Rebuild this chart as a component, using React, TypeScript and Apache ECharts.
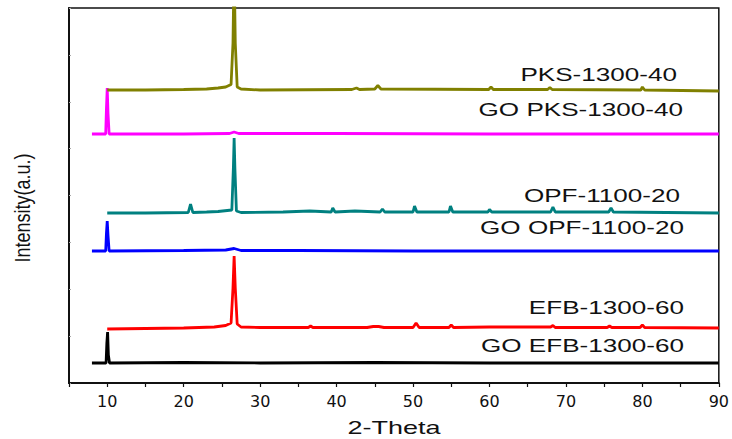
import React, { useEffect, useRef } from "react";
import * as echarts from "echarts";

// 2-Theta tick labels
const xTicks = [10, 20, 30, 40, 50, 60, 70, 80, 90];
const xRange = [5, 90];
const yRange = [0, 375];

// Series names (bottom to top)
const seriesNames = [
  "GO EFB-1300-60",
  "EFB-1300-60",
  "GO OPF-1100-20",
  "OPF-1100-20",
  "GO PKS-1300-40",
  "PKS-1300-40",
];
const seriesColors = ["#000000", "#ff0000", "#0000ff", "#008080", "#ff00ff", "#808000"];

// Stacked (offset) intensity, arbitrary units: [2-Theta, intensity]
const goEfb: number[][] = [
  [8, 20], [9.85, 20], [9.95, 40], [10.05, 51], [10.15, 28], [10.3, 20],
  [20, 20.5], [30, 20], [45, 20.5], [60, 20], [75, 20], [90, 20],
];
const efb: number[][] = [
  [10, 54], [15, 54.5], [20, 55], [24, 56], [25.5, 57.5], [26.2, 60], [26.45, 95], [26.6, 127],
  [26.75, 95], [27, 59], [27.5, 56], [30, 55.5], [36.3, 55.5], [36.6, 57], [36.9, 55.5],
  [44, 55.5], [44.8, 56.5], [45.5, 56.5], [46.2, 55.5], [50, 55.5], [50.4, 60], [50.8, 55.5],
  [54.7, 55.5], [55, 58], [55.3, 55.5], [60, 56], [68, 56], [68.3, 57.5], [68.6, 55.5],
  [75.4, 55.5], [75.7, 57], [76, 55.5], [79.7, 55.5], [80, 58], [80.3, 55.5], [90, 55],
];
const goOpf: number[][] = [
  [8, 132], [9.8, 132], [9.9, 150], [10, 162], [10.1, 148], [10.25, 132], [20, 132.5],
  [25.5, 133], [26.6, 134.5], [27.5, 132.5], [35, 132.5], [50, 132], [70, 132], [90, 132],
];
const opf: number[][] = [
  [10, 170], [15, 170], [20.6, 170.5], [20.9, 179], [21.2, 170.5], [23, 171], [24.5, 171.5],
  [26.3, 173], [26.5, 215], [26.6, 245], [26.7, 215], [26.9, 172], [27.5, 170.5], [33, 171],
  [36.5, 172], [39.3, 171], [39.5, 175], [39.8, 171], [42.4, 172], [45.7, 171], [46, 174],
  [46.3, 171], [50, 171], [50.2, 177], [50.5, 171], [54.7, 171], [54.9, 177], [55.2, 171],
  [59.8, 171], [60, 173.5], [60.3, 171], [68, 171], [68.3, 176], [68.6, 171], [75.6, 171],
  [75.9, 175], [76.2, 171], [90, 170],
];
const goPks: number[][] = [
  [8, 249], [9.8, 249], [9.9, 275], [10, 295], [10.1, 270], [10.25, 249], [20, 249],
  [26, 249.5], [26.6, 251], [27.2, 249.5], [40, 249.5], [60, 249], [90, 249],
];
const pks: number[][] = [
  [10, 293], [15, 293], [20, 293.5], [23, 294], [24.5, 295], [25.5, 296], [26.2, 298.5],
  [26.45, 340], [26.6, 420], [26.75, 340], [27, 296], [27.5, 294], [30, 293], [42, 293.5],
  [42.6, 295], [43, 293.5], [45, 294], [45.4, 297.5], [45.8, 294], [59.9, 293.5], [60.2, 296],
  [60.5, 293.5], [67.6, 293.5], [67.9, 295.5], [68.2, 293.5], [79.8, 293], [80, 296],
  [80.3, 293], [90, 292],
];
const seriesData = [goEfb, efb, goOpf, opf, goPks, pks];

// label anchor (right edge, vertical middle) in pixels
const labelPos = [
  [684, 346],
  [684, 308],
  [684, 228],
  [680, 196],
  [683, 110],
  [677, 75],
];

const GRID = { left: 69, top: 8, width: 651, height: 375 };

export default function App() {
  const ref = useRef<HTMLDivElement>(null);
  useEffect(() => {
    if (!ref.current) return;
    const chart = echarts.init(ref.current, undefined, { renderer: "svg" });
    const labelFont = "18px 'Liberation Sans', Arial, sans-serif";
    chart.setOption({
      animation: false,
      backgroundColor: "#ffffff",
      grid: {
        left: GRID.left,
        top: GRID.top,
        width: GRID.width,
        height: GRID.height,
        containLabel: false,
        show: true,
        borderColor: "#111",
        borderWidth: 1.5,
        backgroundColor: "rgba(0,0,0,0)",
      },
      xAxis: [
        {
          type: "value",
          min: xRange[0],
          max: xRange[1],
          interval: 5,
          axisLine: { show: true, onZero: false, lineStyle: { color: "#111", width: 2 } },
          axisTick: { show: true, inside: false, length: 4, lineStyle: { color: "#111", width: 1.2 } },
          axisLabel: {
            margin: 10,
            color: "#111",
            fontSize: 16,
            fontFamily: "DejaVu Sans",
            formatter: (v: number) => (xTicks.includes(v) ? String(v) : ""),
          },
          splitLine: { show: false },
        },
      ],
      yAxis: [
        {
          type: "value",
          min: yRange[0],
          max: yRange[1],
          interval: 46.875,
          axisLine: { show: true, onZero: false, lineStyle: { color: "#111", width: 2 } },
          axisTick: { show: true, inside: true, length: 2, lineStyle: { color: "#aaa" } },
          axisLabel: { show: false },
          splitLine: { show: false },
        },
      ],
      series: seriesData.map((d, i) => ({
        type: "line",
        name: seriesNames[i],
        data: d,
        showSymbol: false,
        symbol: "none",
        clip: true,
        lineStyle: { color: seriesColors[i], width: 2.8 },
        z: 2 + i,
      })),
      graphic: [
        ...seriesNames.map((n, i) => ({
          type: "text",
          x: labelPos[i][0],
          y: labelPos[i][1],
          scaleX: 1.45,
          z: 100,
          style: {
            text: n,
            fill: "#111",
            font: labelFont,
            align: "right",
            textAlign: "right",
            verticalAlign: "middle",
            textVerticalAlign: "middle",
          },
        })),
        {
          type: "text",
          x: 394,
          y: 428,
          scaleX: 1.5,
          z: 100,
          style: {
            text: "2-Theta",
            fill: "#111",
            font: labelFont,
            align: "center",
            textAlign: "center",
            verticalAlign: "middle",
            textVerticalAlign: "middle",
          },
        },
        {
          type: "text",
          x: 22,
          y: 208,
          rotation: Math.PI / 2,
          scaleY: 1.25,
          z: 100,
          style: {
            text: "Intensity(a.u.)",
            fill: "#111",
            font: labelFont,
            align: "center",
            textAlign: "center",
            verticalAlign: "middle",
            textVerticalAlign: "middle",
          },
        },
      ],
    });
    return () => chart.dispose();
  }, []);
  return (
    <div
      ref={ref}
      style={{ position: "fixed", left: 0, top: 0, width: 732, height: 439, background: "#fff" }}
    />
  );
}
